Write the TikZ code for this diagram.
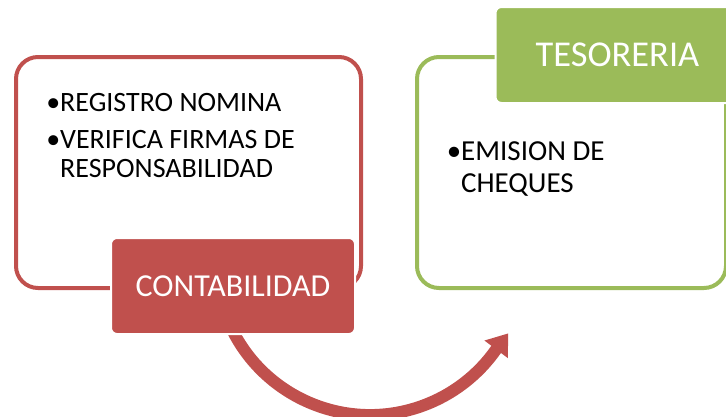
\documentclass[tikz,border=0pt]{standalone}
\usepackage{fontspec}
\setmainfont{Carlito}
\usetikzlibrary{arrows.meta}
\definecolor{accred}{HTML}{C0504D}
\definecolor{accgreen}{HTML}{9BBB59}
\begin{document}
\begin{tikzpicture}[x=1pt,y=-1pt,
  outline/.style={draw=#1, rounded corners=22pt, line width=4pt, fill=white, inner sep=0pt, anchor=north west},
  tag/.style={fill=#1, draw=white, rounded corners=6pt, line width=2pt, text=white, inner sep=0pt, minimum width=244pt, minimum height=96pt},
  item/.style={anchor=base west, inner sep=0pt, font=\fontsize{#1}{#1}\selectfont},
  flow/.style={draw=accred, line width=12pt, -{Triangle[length=20pt,width=28pt]}}]
\useasboundingbox (0,0) rectangle (726,416);
\clip (0,0) rectangle (726,416);
% boxes
\node[outline=accred, minimum width=345pt, minimum height=231pt] (cbox) at (14,55) {};
\node[outline=accgreen, minimum width=309pt, minimum height=231pt] (tbox) at (415,55) {};
% curved arrow
\coordinate (s) at (225.3,313.7);
\draw[flow] (s) arc[start angle=160, end angle=35, radius=154] -- ++(12,-16) coordinate (e);
% labels
\node[tag=accred, font=\fontsize{32}{32}\selectfont] (cont) at (233,286) {CONTABILIDAD};
\node[tag=accgreen, font=\fontsize{36.4}{36.4}\selectfont] (teso) at (617.5,55) {TESORERIA};
% texts
\node[item=28] (l1) at (60,111) {\llap{•}REGISTRO NOMINA};
\node[item=28] (l2) at (60,148) {\llap{•}VERIFICA FIRMAS DE};
\node[item=28] (l3) at (60,177) {RESPONSABILIDAD};
\node[item=29] (r1) at (461,160) {\llap{•}EMISION DE};
\node[item=29] (r2) at (461,192) {CHEQUES};
\end{tikzpicture}
\end{document}
